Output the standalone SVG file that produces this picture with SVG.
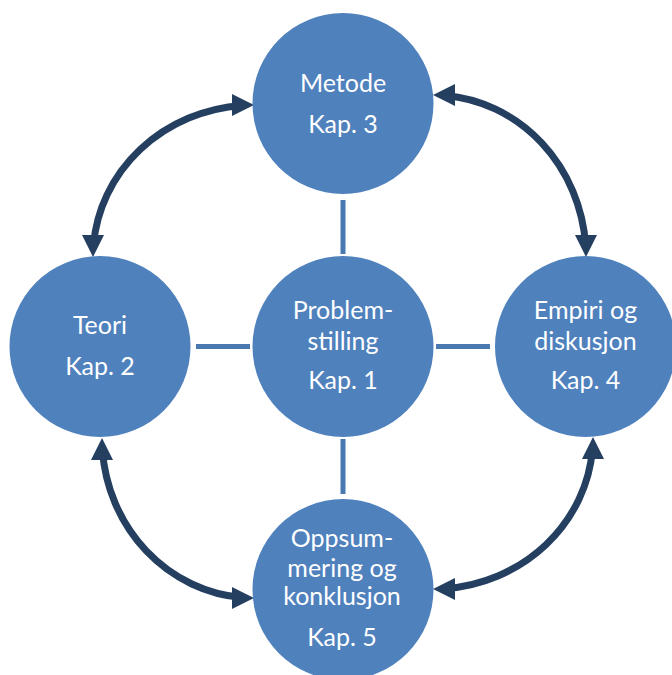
<svg xmlns="http://www.w3.org/2000/svg" width="672" height="675" viewBox="0 0 672 675">
  <style>
    .node circle { fill: #4F81BD; }
    .node text { fill: #FFFFFF; font-family: Lato, "Open Sans", "Liberation Sans", sans-serif; font-size: 25px; text-anchor: middle; }
    .link { stroke: #4A78B0; stroke-width: 5; fill: none; }
    .arc { stroke: #243F60; stroke-width: 7; fill: none; }
    .head { fill: #243F60; }
  </style>
  <rect width="672" height="675" fill="#FFFFFF"/>

  <!-- spokes from the centre circle -->
  <g id="connectors">
    <line class="link" x1="343" y1="200" x2="343" y2="254"/>
    <line class="link" x1="343" y1="439" x2="343" y2="494"/>
    <line class="link" x1="196" y1="346.5" x2="250" y2="346.5"/>
    <line class="link" x1="436" y1="346.5" x2="490" y2="346.5"/>

    <!-- curved double arrows between the outer circles -->
    <path class="arc" d="M 93.5 245 A 161 152 0 0 1 242 105.4"/>
    <polygon class="head" points="93,257 82,235 104,235"/>
    <polygon class="head" points="254,105 232,94 232,116"/>

    <path class="arc" d="M 445 95.5 A 153 162 0 0 1 585.6 245"/>
    <polygon class="head" points="433,95 455,84 455,106"/>
    <polygon class="head" points="586,257 575,235 597,235"/>

    <path class="arc" d="M 102.4 450 A 152 160 0 0 0 242 597.5"/>
    <polygon class="head" points="102,438 91,460 113,460"/>
    <polygon class="head" points="254,598 232,587 232,609"/>

    <path class="arc" d="M 592.5 449 A 160 152 0 0 1 445 588.6"/>
    <polygon class="head" points="593,437 582,459 604,459"/>
    <polygon class="head" points="433,589 455,578 455,600"/>
  </g>

  <g id="metode" class="node">
    <circle cx="343" cy="103.5" r="90.5"/>
    <text x="343" y="91.5">Metode</text>
    <text x="343" y="132.5">Kap. 3</text>
  </g>

  <g id="teori" class="node">
    <circle cx="100" cy="346.5" r="90.5"/>
    <text x="100" y="334">Teori</text>
    <text x="100" y="375">Kap. 2</text>
  </g>

  <g id="problemstilling" class="node">
    <circle cx="343" cy="346.5" r="90.5"/>
    <text x="343" y="319">Problem-</text>
    <text x="343" y="349.5">stilling</text>
    <text x="343" y="388.5">Kap. 1</text>
  </g>

  <g id="empiri" class="node">
    <circle cx="585.5" cy="346.5" r="90.5"/>
    <text x="585.5" y="319">Empiri og</text>
    <text x="585.5" y="349.5">diskusjon</text>
    <text x="585.5" y="388.5">Kap. 4</text>
  </g>

  <g id="oppsummering" class="node">
    <circle cx="343" cy="589.5" r="90.5"/>
    <text x="342" y="546.5">Oppsum-</text>
    <text x="342" y="576.5">mering og</text>
    <text x="342" y="605">konklusjon</text>
    <text x="342" y="645.5">Kap. 5</text>
  </g>
</svg>
